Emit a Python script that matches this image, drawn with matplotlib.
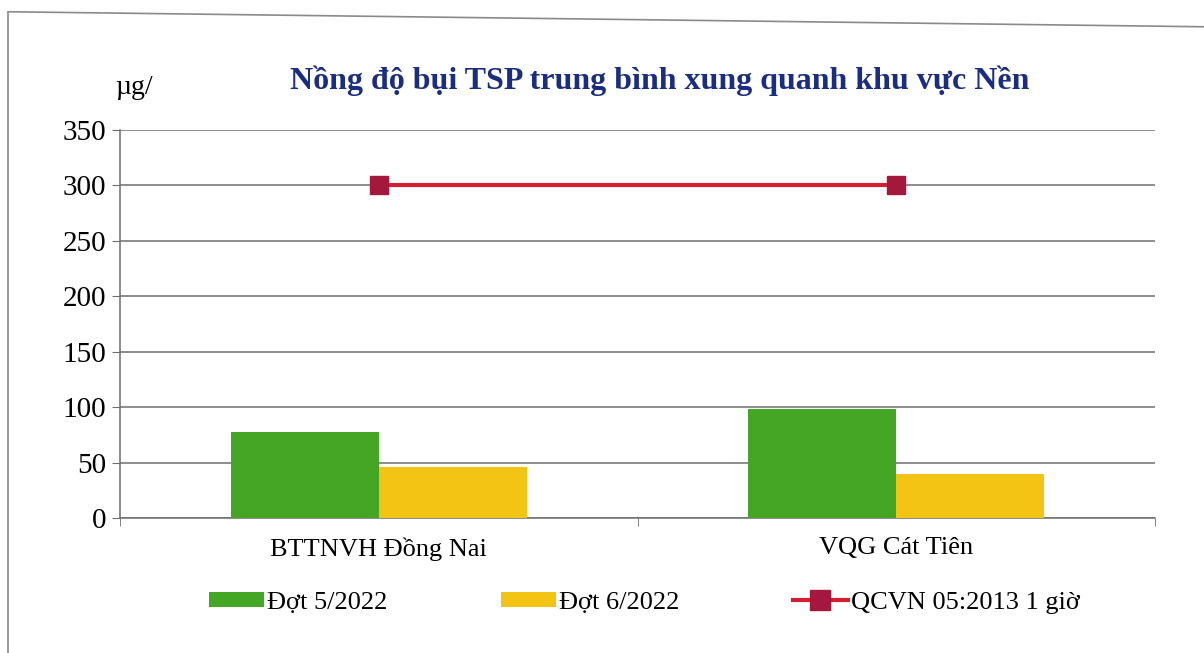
import numpy as np
import matplotlib
matplotlib.use("Agg")
import matplotlib.pyplot as plt
from matplotlib.lines import Line2D

plt.rcParams['font.family'] = ['Liberation Serif', 'DejaVu Serif']

# Du lieu
categories = ["BTTNVH Đồng Nai", "VQG Cát Tiên"]
dot_5_2022 = [78, 98]
dot_6_2022 = [46, 40]
qcvn = [300, 300]
series_names = ["Đợt 5/2022", "Đợt 6/2022", "QCVN 05:2013 1 giờ"]
yticks = [0, 50, 100, 150, 200, 250, 300, 350]

green = "#45a524"
yellow = "#f4c414"
red_line = "#d21e32"
red_marker = "#a3183c"
grid_col = "#6e6e6e"

fig = plt.figure(figsize=(12.04, 6.53), dpi=100)
ax = fig.add_axes([0.0997, 0.2067, 0.8596, 0.5942])

x = np.arange(len(categories))
w = 0.286
b1 = ax.bar(x - w / 2, dot_5_2022, width=w, color=green, label=series_names[0], zorder=3)
b2 = ax.bar(x + w / 2, dot_6_2022, width=w, color=yellow, label=series_names[1], zorder=3)
l1, = ax.plot(x, qcvn, color=red_line, lw=3, marker="s", ms=13,
              mfc=red_marker, mec=red_marker, label=series_names[2], zorder=4)

ax.set_xlim(-0.5, len(categories) - 0.5)
ax.set_ylim(0, 350)
ax.set_yticks(yticks)
ax.yaxis.grid(True, color=grid_col, lw=1.1)
ax.set_axisbelow(True)
for s in ["top", "right"]:
    ax.spines[s].set_visible(False)
for s in ["left", "bottom"]:
    ax.spines[s].set_color(grid_col)
    ax.spines[s].set_linewidth(1.1)

ax.set_xticks(x)
ax.set_xticklabels(categories, fontsize=19)
ax.set_xticks(np.arange(len(categories) + 1) - 0.5, minor=True)
ax.tick_params(axis="x", which="major", length=0, pad=14)
ax.tick_params(axis="x", which="minor", length=6, color=grid_col, direction="out")
ax.tick_params(axis="y", length=6, color=grid_col, labelsize=21, pad=4)

fig.text(0.548, 0.876, "Nồng độ bụi TSP trung bình xung quanh khu vực Nền",
         ha="center", va="center", fontsize=23, fontweight="bold", color="#1a2d80")
fig.text(0.096, 0.866, "µg/", ha="left", va="center", fontsize=20)

fig.legend(handles=[b1, b2, l1], loc="center", bbox_to_anchor=(0.535, 0.077), ncol=3,
           frameon=False, fontsize=19, handlelength=2.1, handleheight=0.55,
           handletextpad=0.1, columnspacing=4.3, markerscale=1.1)

# khung
fig.add_artist(Line2D([0.007, 0.007], [0.0, 0.982], color="#8a8a8a", lw=1.2))
fig.add_artist(Line2D([0.007, 1.0], [0.982, 0.959], color="#8a8a8a", lw=1.2))

fig.savefig("out.png", dpi=100, facecolor="white")
